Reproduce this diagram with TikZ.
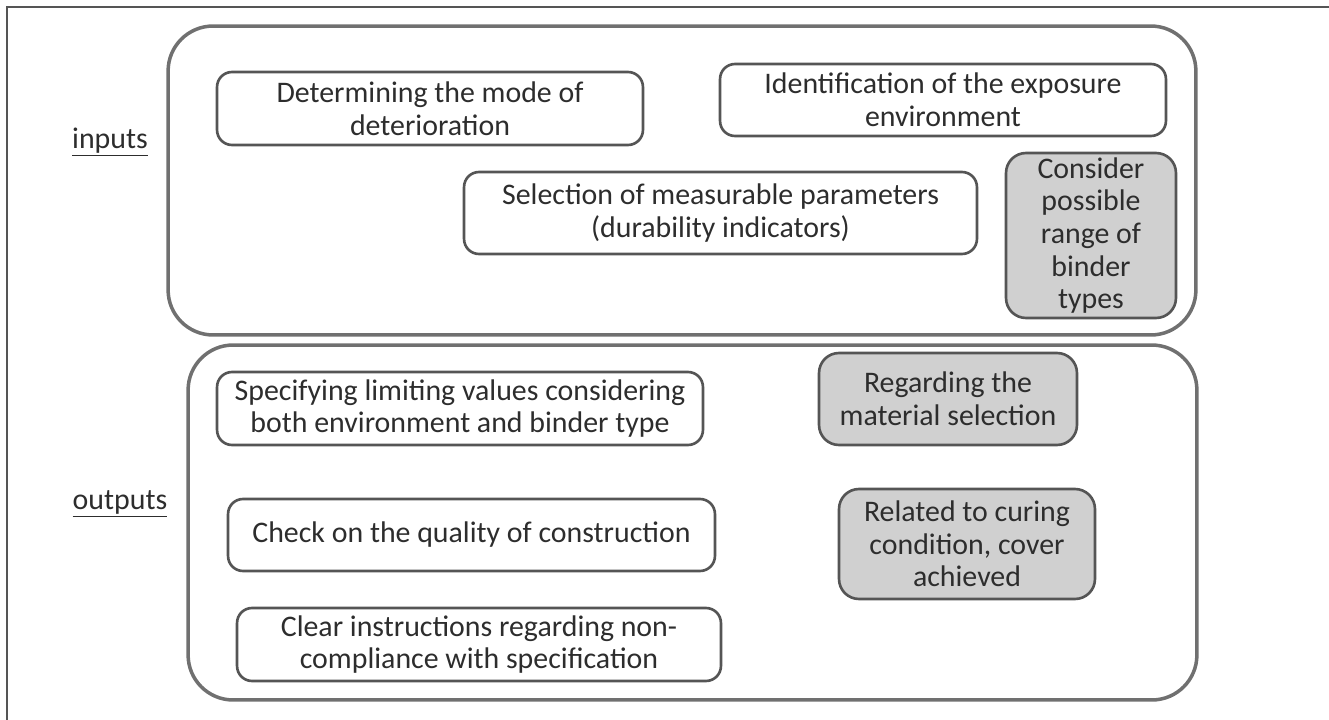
\documentclass[tikz,border=0pt]{standalone}
\usepackage{fontspec}
\setmainfont{Carlito}
\usepackage{tikz}

\definecolor{boxline}{RGB}{85,85,85}
\definecolor{outline}{RGB}{112,112,112}
\definecolor{boxfill}{RGB}{208,208,208}
\definecolor{txt}{RGB}{45,45,45}

\begin{document}
\begin{tikzpicture}[
  x=0.02cm, y=-0.02cm,
  font=\fontsize{17}{18.6}\selectfont,
  text=txt,
  gnode/.style={rectangle, rounded corners=0.9cm, draw=outline, line width=2pt},
  bnode/.style={rectangle, rounded corners=0.3cm, draw=boxline, line width=1.5pt, align=center, inner sep=0pt},
  fnode/.style={bnode, fill=boxfill, rounded corners=0.4cm},
  lnode/.style={inner sep=0pt}
  ]

\useasboundingbox (0,0) rectangle (1329,720);
\draw [line width=1.2pt, boxline] (7,720) -- (7,7) -- (1329,7);

\node [gnode, minimum width=20.56cm, minimum height=6.18cm] (inbox) at (682,180.5) {};
\node [gnode, minimum width=20.18cm, minimum height=7.1cm] (outbox) at (692.5,522.5) {};

\node [lnode] (inl) at (110,142) {\underline{inputs}};
\node [lnode] (outl) at (120,504) {\underline{outputs}};

\node [bnode, minimum width=8.52cm, minimum height=1.46cm] (b1) at (430,108.5) {Determining the mode of\\deterioration};
\node [bnode, minimum width=8.92cm, minimum height=1.44cm] (b2) at (943,100) {Identification of the exposure\\environment};
\node [bnode, minimum width=10.26cm, minimum height=1.64cm] (b3) at (720.5,213) {Selection of measurable parameters\\(durability indicators)};
\node [fnode, minimum width=3.4cm, minimum height=3.3cm] (b4) at (1091,235.5) {Consider\\possible\\range of\\binder\\types};

\node [bnode, minimum width=9.72cm, minimum height=1.46cm] (b5) at (460,408.5) {Specifying limiting values considering\\both environment and binder type};
\node [fnode, minimum width=5.16cm, minimum height=1.84cm] (b6) at (948,399) {Regarding the\\material selection};
\node [bnode, minimum width=9.74cm, minimum height=1.44cm] (b7) at (471.5,535) {Check on the quality of construction};
\node [fnode, minimum width=5.12cm, minimum height=2.2cm] (b8) at (967,544) {Related to curing\\condition, cover\\achieved};
\node [bnode, minimum width=9.68cm, minimum height=1.46cm] (b9) at (479,644.5) {Clear instructions regarding non-\\compliance with specification};

\end{tikzpicture}
\end{document}
